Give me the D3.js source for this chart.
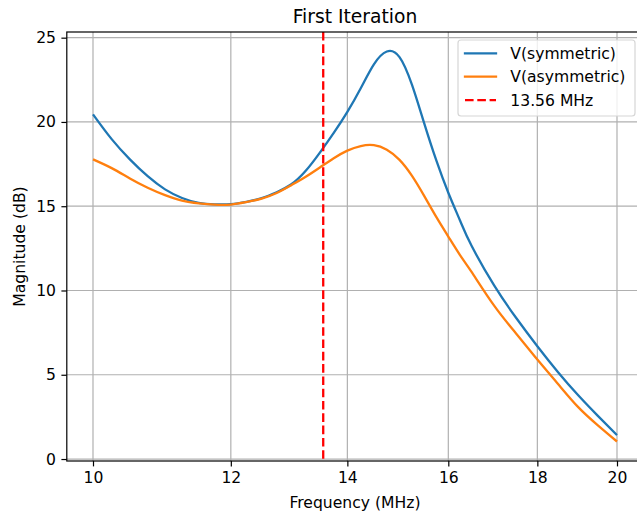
<!DOCTYPE html>
<html lang="en">

<head>
    <meta charset="UTF-8">
    <title>First Iteration</title>
    <style>
        body { margin: 0; background: #fff; }
        text { font-family: "DejaVu Sans", sans-serif; fill: #000; }
    </style>
</head>

<body>
    <svg id="chart" width="637" height="515"></svg>

    <script src="https://cdn.jsdelivr.net/npm/d3@7"></script>
    <script>

        // data (MHz / dB)
        var freq = [10, 10.25, 10.5, 10.75, 11, 11.25, 11.5, 11.75, 12, 12.25, 12.5, 12.75, 13, 13.25, 13.5, 13.75,
            14, 14.25, 14.5, 14.75, 15, 15.25, 15.5, 15.75, 16, 16.25, 16.5, 17, 17.5, 18, 18.5, 19, 19.5, 20]
        var vSym = [20.45, 18.98, 17.78, 16.78, 16.0, 15.49, 15.2, 15.11, 15.12, 15.26, 15.48, 15.83, 16.3, 17.1, 18.18, 19.35,
            20.6, 22.0, 23.42, 24.18, 23.85, 22.2, 19.9, 17.7, 15.8, 14.15, 12.65, 10.3, 8.38, 6.69, 5.15, 3.78, 2.56, 1.42]
        var vAsym = [17.78, 17.26, 16.65, 16.1, 15.66, 15.33, 15.17, 15.09, 15.1, 15.25, 15.45, 15.78, 16.25, 16.75, 17.3, 17.85,
            18.3, 18.57, 18.62, 18.35, 17.75, 16.8, 15.6, 14.35, 13.2, 12.1, 11.1, 9.1, 7.45, 5.9, 4.45, 3.08, 2.0, 1.04]
        var xTicks = [10, 12, 14, 16, 18, 20]
        var yTicks = [0, 5, 10, 15, 20, 25]
        var markerFreq = 13.56
        var seriesNames = ["V(symmetric)", "V(asymmetric)", "13.56 MHz"]

        var colors = ["#1f77b4", "#ff7f0e", "#ff0000"]

        // axes box (plot area)
        var pLeft = 66.8, pRight = 643.2, pTop = 32, pBottom = 461

        var svg = d3.select("#chart")
        svg.append("rect").attr("width", 637).attr("height", 515).attr("fill", "#fff")

        // log x with matplotlib style 5% margins
        var lx = Math.log10(d3.min(freq)), hx = Math.log10(d3.max(freq)), mx = (hx - lx) * 0.05
        var x = d3.scaleLog()
            .domain([Math.pow(10, lx - mx), Math.pow(10, hx + mx)])
            .range([pLeft, pRight])

        var allV = vSym.concat(vAsym)
        var lo = d3.min(allV), hi = d3.max(allV), my = (hi - lo) * 0.05
        var y = d3.scaleLinear()
            .domain([lo - my, hi + my])
            .range([pBottom, pTop])

        // grid
        svg.append("g").selectAll("line").data(xTicks).enter().append("line")
            .attr("x1", function (d) { return x(d) }).attr("x2", function (d) { return x(d) })
            .attr("y1", pTop).attr("y2", pBottom)
            .attr("stroke", "#b0b0b0").attr("stroke-width", 1.2)
        svg.append("g").selectAll("line").data(yTicks).enter().append("line")
            .attr("x1", pLeft).attr("x2", pRight)
            .attr("y1", function (d) { return y(d) }).attr("y2", function (d) { return y(d) })
            .attr("stroke", "#b0b0b0").attr("stroke-width", 1.2)

        // curves
        var line = d3.line()
            .x(function (d) { return x(d[0]) })
            .y(function (d) { return y(d[1]) })
            .curve(d3.curveNatural)

        svg.append("path")
            .datum(d3.zip(freq, vSym))
            .attr("d", line)
            .attr("fill", "none").attr("stroke", colors[0]).attr("stroke-width", 2.3)
        svg.append("path")
            .datum(d3.zip(freq, vAsym))
            .attr("d", line)
            .attr("fill", "none").attr("stroke", colors[1]).attr("stroke-width", 2.3)

        // 13.56 MHz marker
        svg.append("line")
            .attr("x1", x(markerFreq)).attr("x2", x(markerFreq))
            .attr("y1", pTop).attr("y2", pBottom)
            .attr("stroke", colors[2]).attr("stroke-width", 2.3)
            .attr("stroke-dasharray", "8.6,3.7")

        // spines
        svg.append("rect")
            .attr("x", pLeft).attr("y", pTop)
            .attr("width", pRight - pLeft).attr("height", pBottom - pTop)
            .attr("fill", "none").attr("stroke", "#000").attr("stroke-width", 1.2)

        // axes
        var xAxis = d3.axisBottom(x).tickValues(xTicks).tickFormat(d3.format("d"))
            .tickSizeInner(5.4).tickSizeOuter(0).tickPadding(5.4)
        svg.append("g").attr("transform", "translate(0," + pBottom + ")").call(xAxis)
        var yAxis = d3.axisLeft(y).tickValues(yTicks).tickFormat(d3.format("d"))
            .tickSizeInner(5.4).tickSizeOuter(0).tickPadding(5.4)
        svg.append("g").attr("transform", "translate(" + pLeft + ",0)").call(yAxis)

        svg.selectAll(".domain").remove()
        svg.selectAll(".tick line").attr("stroke", "#000").attr("stroke-width", 1.2)
        svg.selectAll(".tick text").attr("font-size", 15.6).attr("font-family", "DejaVu Sans").attr("fill", "#000")

        // titles
        svg.append("text")
            .attr("x", (pLeft + pRight) / 2).attr("y", 22.5)
            .attr("text-anchor", "middle").attr("font-size", 18.7)
            .text("First Iteration")
        svg.append("text")
            .attr("x", (pLeft + pRight) / 2).attr("y", 508)
            .attr("text-anchor", "middle").attr("font-size", 15.6)
            .text("Frequency (MHz)")
        svg.append("text")
            .attr("transform", "translate(25," + (pTop + pBottom) / 2 + ") rotate(-90)")
            .attr("text-anchor", "middle").attr("font-size", 15.6)
            .text("Magnitude (dB)")

        // legend
        var lg = svg.append("g")
        lg.append("rect")
            .attr("x", 458).attr("y", 40).attr("width", 177).attr("height", 76).attr("rx", 3)
            .attr("fill", "#fff").attr("fill-opacity", 0.8)
            .attr("stroke", "#d6d6d6").attr("stroke-width", 1.2)
        var rowY = 53.3, rowH = 23.4
        lg.selectAll("line.key").data(seriesNames).enter().append("line")
            .attr("x1", 465).attr("x2", 496)
            .attr("y1", function (d, i) { return rowY + i * rowH })
            .attr("y2", function (d, i) { return rowY + i * rowH })
            .attr("stroke", function (d, i) { return colors[i] })
            .attr("stroke-width", 2.3)
            .attr("stroke-linecap", function (d, i) { return i < 2 ? "square" : "butt" })
            .attr("stroke-dasharray", function (d, i) { return i == 2 ? "8.6,3.7" : null })
        lg.selectAll("text.lab").data(seriesNames).enter().append("text")
            .attr("x", 510.3)
            .attr("y", function (d, i) { return rowY + i * rowH })
            .attr("dy", "0.36em")
            .attr("font-size", 15.6)
            .text(function (d) { return d })
    </script>

</body>

</html>
